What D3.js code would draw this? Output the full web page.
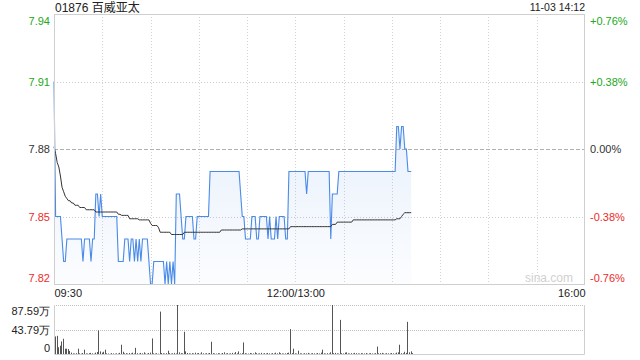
<!DOCTYPE html>
<html><head><meta charset="utf-8">
<script src="https://cdn.jsdelivr.net/npm/d3@7"></script>
<style>body{margin:0;background:#fff;} svg{display:block;font-family:"Liberation Sans",Arial,"Noto Sans CJK SC",sans-serif;}</style>
</head><body>
<svg id="c" width="640" height="360"></svg>
<script>
const title = "01876 百威亚太";
const stamp = "11-03 14:12";
const prevClose = 7.88;
const priceTicks = [7.82, 7.85, 7.88, 7.91, 7.94];
const pctLabels = ["-0.76%", "-0.38%", "0.00%", "+0.38%", "+0.76%"];
const timeTicks = [0, 150, 330];
const timeLabels = ["09:30", "12:00/13:00", "16:00"];
const volTicks = [0, 43.79, 87.59];
const volLabels = ["0", "43.79万", "87.59万"];

const price = [
7.91,7.85,7.85,7.85,7.85,7.84,7.83,7.83,7.84,7.84,
7.84,7.84,7.84,7.84,7.84,7.84,7.84,7.84,7.83,7.84,
7.84,7.84,7.84,7.83,7.84,7.84,7.86,7.86,7.85,7.86,
7.85,7.85,7.85,7.85,7.85,7.85,7.85,7.85,7.85,7.85,
7.83,7.83,7.83,7.83,7.84,7.84,7.84,7.83,7.84,7.84,
7.83,7.84,7.83,7.84,7.83,7.84,7.84,7.84,7.84,7.83,
7.82,7.82,7.83,7.83,7.83,7.83,7.83,7.83,7.83,7.82,
7.83,7.82,7.83,7.82,7.83,7.82,7.86,7.86,7.86,7.85,
7.84,7.84,7.85,7.85,7.85,7.85,7.85,7.84,7.84,7.85,
7.85,7.85,7.85,7.85,7.85,7.85,7.85,7.87,7.87,7.87,
7.87,7.87,7.87,7.87,7.87,7.87,7.87,7.87,7.87,7.87,
7.87,7.87,7.87,7.87,7.87,7.87,7.86,7.85,7.85,7.84,
7.84,7.84,7.84,7.85,7.85,7.85,7.84,7.84,7.85,7.85,
7.85,7.85,7.85,7.84,7.85,7.84,7.84,7.84,7.85,7.84,
7.85,7.85,7.85,7.85,7.84,7.84,7.87,7.87,7.87,7.87,
7.87,7.87,7.87,7.87,7.87,7.87,7.87,7.86,7.87,7.87,
7.87,7.87,7.87,7.87,7.87,7.87,7.87,7.87,7.87,7.87,
7.87,7.87,7.84,7.86,7.86,7.86,7.86,7.87,7.87,7.87,
7.87,7.87,7.87,7.87,7.87,7.87,7.87,7.87,7.87,7.87,
7.87,7.87,7.87,7.87,7.87,7.87,7.87,7.87,7.87,7.87,
7.87,7.87,7.87,7.87,7.87,7.87,7.87,7.87,7.87,7.87,
7.87,7.87,7.87,7.89,7.89,7.88,7.89,7.89,7.88,7.88,
7.87,7.87,7.87];

const avg = [
7.881,7.878,7.874,7.872,7.868,7.863,7.861,7.859,7.858,7.857,
7.857,7.856,7.856,7.855,7.855,7.855,7.854,7.854,7.854,7.854,
7.853,7.853,7.853,7.853,7.853,7.853,7.852,7.852,7.852,7.852,
7.852,7.852,7.852,7.852,7.852,7.852,7.852,7.852,7.852,7.852,
7.851,7.851,7.8505,7.8505,7.8505,7.8505,7.8505,7.849,7.849,7.849,
7.849,7.849,7.849,7.8485,7.8485,7.8485,7.8485,7.8485,7.8485,7.8485,
7.847,7.846,7.846,7.846,7.846,7.845,7.843,7.843,7.843,7.843,
7.843,7.843,7.843,7.842,7.842,7.842,7.842,7.842,7.842,7.842,
7.842,7.843,7.843,7.843,7.843,7.843,7.843,7.843,7.843,7.843,
7.843,7.843,7.843,7.843,7.843,7.843,7.843,7.843,7.843,7.843,
7.843,7.843,7.843,7.843,7.844,7.844,7.844,7.844,7.844,7.844,
7.844,7.844,7.844,7.844,7.844,7.844,7.844,7.8445,7.8445,7.8445,
7.8445,7.8445,7.8445,7.8445,7.8445,7.8445,7.8445,7.8445,7.8445,7.8445,
7.8445,7.8445,7.8445,7.8445,7.8445,7.8445,7.8445,7.8445,7.8445,7.8445,
7.8445,7.8445,7.8445,7.8445,7.8445,7.8445,7.8445,7.8455,7.8455,7.8455,
7.8455,7.8455,7.8455,7.8455,7.8455,7.8455,7.8455,7.8455,7.8455,7.8455,
7.8455,7.8455,7.8455,7.8455,7.8455,7.8455,7.8455,7.8455,7.8455,7.8455,
7.8455,7.8455,7.8455,7.8465,7.8465,7.8465,7.8475,7.8475,7.8475,7.8475,
7.8475,7.8475,7.8475,7.8475,7.8475,7.8475,7.8485,7.8485,7.8485,7.8485,
7.8485,7.8485,7.8485,7.8485,7.8485,7.8485,7.8485,7.8485,7.8485,7.8485,
7.8485,7.8485,7.8485,7.8485,7.8485,7.8485,7.8485,7.8485,7.8485,7.8485,
7.8485,7.8485,7.8485,7.849,7.849,7.849,7.850,7.851,7.8517,7.8517,
7.8517,7.8517,7.8517];

const vol = [
31.4,32.5,12,14.8,22.5,27.2,9.5,9.5,8.9,5.5,
2.5,1.2,0.8,1.5,9.5,1.2,0.6,1.8,7.7,1.0,
0.8,1.5,2.0,1.2,0.6,2.4,3.5,42,4.7,2.5,
4.0,7.7,1.2,0.8,0.5,1.5,1.0,0.6,1.2,0.8,
2.0,16.6,4.0,1.2,1.5,0.8,1.8,1.2,2.4,1.0,
11,1.5,0.8,2.0,1.2,3.0,1.0,0.6,1.8,2.5,
27.8,1.2,0.8,1.5,0.6,75.8,1.8,1.2,0.8,1.5,
5.9,1.5,0.8,1.2,2.0,1.0,87.59,3.0,1.5,1.2,
39.7,4.7,1.8,1.2,0.8,1.5,1.0,2.4,1.2,1.8,
0.6,3.0,1.2,0.8,1.5,1.0,1.8,21.9,1.5,1.0,
0.8,1.5,1.2,0.6,1.8,3.0,1.0,1.5,0.8,1.2,
2.0,1.0,3.5,1.2,4.7,1.0,1.5,20.7,1.5,1.0,
0.8,1.8,1.2,1.0,3.0,1.5,0.8,1.2,2.0,0.6,
1.5,1.0,1.8,1.2,0.8,1.5,1.0,2.4,1.2,3.0,
1.5,1.0,0.8,1.2,1.8,2.4,44.4,1.5,9.5,1.2,
0.8,5.9,1.2,1.0,0.6,1.5,1.2,2.0,0.8,1.0,
1.5,1.2,0.8,1.8,1.0,2.4,7.7,1.2,0.8,1.5,
1.0,3.0,87.59,1.5,2.0,1.2,0.8,61,1.5,1.0,
2.4,3.0,1.2,0.8,1.5,1.0,2.0,1.5,1.0,0.8,
1.5,1.2,1.0,1.8,0.6,1.2,1.5,1.0,0.8,1.5,
13.3,1.2,1.5,2.0,1.0,0.8,1.5,1.2,1.0,1.8,
1.2,0.8,2.4,3.0,16.6,1.5,1.2,4.0,2.0,57.5,
3.0,4.7,1.5];

const L = 54, R = 585, T = 14, B = 284, VT = 305, VB = 354;
const GREEN = "#21a821", RED = "#ee2a2a", DARK = "#333";
const svg = d3.select("#c");
const x = d3.scaleLinear().domain([0, 330]).range([L, R]);
const y = d3.scaleLinear().domain([7.82, 7.94]).range([B, T]);
const yv = d3.scaleLinear().domain([0, 87.59]).range([VB, VT]);
const colorOf = v => Math.abs(v - prevClose) < 1e-9 ? DARK : (v > prevClose ? GREEN : RED);

// gradient
const defs = svg.append("defs");
const g = defs.append("linearGradient").attr("id", "fillg").attr("gradientUnits", "userSpaceOnUse")
  .attr("x1", 0).attr("y1", T).attr("x2", 0).attr("y2", B);
g.append("stop").attr("offset", "0%").attr("stop-color", "#4d8de8").attr("stop-opacity", 0.2);
g.append("stop").attr("offset", "100%").attr("stop-color", "#4d8de8").attr("stop-opacity", 0.02);

// vertical grid lines (every 30 minutes)
const vgrid = d3.range(30, 330, 30);
svg.append("g").selectAll("line").data(vgrid).join("line")
  .attr("x1", d => Math.round(x(d)) + 0.5).attr("x2", d => Math.round(x(d)) + 0.5)
  .attr("y1", T).attr("y2", B)
  .attr("stroke", "#d4d4d4").attr("stroke-dasharray", "1,2");

// horizontal grid lines
svg.append("g").selectAll("line").data(priceTicks.slice(1, 4)).join("line")
  .attr("x1", L).attr("x2", R)
  .attr("y1", d => Math.round(y(d)) + 0.5).attr("y2", d => Math.round(y(d)) + 0.5)
  .attr("stroke", d => d === prevClose ? "#b0b0b0" : "#cccccc")
  .attr("stroke-dasharray", d => d === prevClose ? "4,2" : "1,2");

// area + price line
const idx = d3.range(price.length);
svg.append("path").datum(idx)
  .attr("d", d3.area().x(i => x(i)).y0(B).y1(i => y(price[i])))
  .attr("fill", "url(#fillg)");
svg.append("path").datum(idx)
  .attr("d", d3.line().x(i => x(i)).y(i => y(price[i])))
  .attr("fill", "none").attr("stroke", "#4a8ae8").attr("stroke-width", 1.1);
svg.append("path").datum(idx)
  .attr("d", d3.line().x(i => x(i)).y(i => y(avg[i])))
  .attr("fill", "none").attr("stroke", "#333").attr("stroke-width", 1);

// main frame
svg.append("rect").attr("x", L + 0.5).attr("y", T + 0.5).attr("width", R - L - 1).attr("height", B - T)
  .attr("fill", "none").attr("stroke", "#cfcfcf");

// watermark
svg.append("text").attr("x", 573).attr("y", 282).attr("text-anchor", "end")
  .attr("font-size", 12).attr("fill", "#d0d0d0").text("sina.com");

// left price axis
const axL = svg.append("g").attr("transform", `translate(${L},0)`)
  .call(d3.axisLeft(y).tickValues(priceTicks).tickSize(0).tickPadding(4).tickFormat(d3.format(".2f")));
axL.select(".domain").remove();
axL.selectAll("text").attr("font-size", 11).attr("font-family", "Liberation Sans, Arial, sans-serif")
  .attr("fill", d => colorOf(d))
  .attr("dy", d => d === 7.94 ? "0.95em" : (d === 7.82 ? "-0.2em" : "0.32em"));

// right percent axis
const axR = svg.append("g").attr("transform", `translate(${R},0)`)
  .call(d3.axisRight(y).tickValues(priceTicks).tickSize(0).tickPadding(5)
    .tickFormat((d, i) => pctLabels[i]));
axR.select(".domain").remove();
axR.selectAll("text").attr("font-size", 11).attr("font-family", "Liberation Sans, Arial, sans-serif")
  .attr("fill", d => colorOf(d))
  .attr("dy", d => d === 7.94 ? "0.95em" : (d === 7.82 ? "-0.2em" : "0.32em"));

// time axis
const axB = svg.append("g").attr("transform", `translate(0,${B})`)
  .call(d3.axisBottom(x).tickValues(timeTicks).tickSize(0).tickPadding(5)
    .tickFormat((d, i) => timeLabels[i]));
axB.select(".domain").remove();
axB.selectAll("text").attr("font-size", 11).attr("font-family", "Liberation Sans, Arial, sans-serif")
  .attr("fill", "#222")
  .attr("text-anchor", (d, i) => i === 0 ? "start" : (i === 2 ? "end" : "middle"));

// volume grid
svg.append("g").selectAll("line").data(volTicks.slice(1)).join("line")
  .attr("x1", L).attr("x2", R)
  .attr("y1", d => Math.round(yv(d)) + 0.5).attr("y2", d => Math.round(yv(d)) + 0.5)
  .attr("stroke", "#c0c0c0").attr("stroke-dasharray", "1,1");
svg.append("path")
  .attr("d", `M${L + 0.5},${VT}V${VB + 0.5}H${R - 0.5}V${VT}`)
  .attr("fill", "none").attr("stroke", "#cfcfcf");

// volume bars
svg.append("g").selectAll("rect").data(idx).join("rect")
  .attr("x", i => Math.round(x(i)) + 1).attr("width", 1)
  .attr("y", i => yv(vol[i])).attr("height", i => VB - yv(vol[i]))
  .attr("fill", "#555");

// volume axis
const axV = svg.append("g").attr("transform", `translate(${L},0)`)
  .call(d3.axisLeft(yv).tickValues(volTicks).tickSize(0).tickPadding(4)
    .tickFormat((d, i) => volLabels[i]));
axV.select(".domain").remove();
axV.selectAll("text").attr("font-size", 11).attr("font-family", "Liberation Sans, Arial, sans-serif")
  .attr("fill", "#222")
  .attr("dy", (d, i) => i === 2 ? "0.85em" : (i === 0 ? "-0.2em" : "0.32em"));

// header
svg.append("text").attr("x", L + 1).attr("y", 12).attr("font-size", 12).attr("fill", "#222").text(title);
svg.append("text").attr("x", R).attr("y", 11).attr("text-anchor", "end").attr("font-size", 10.5)
  .attr("fill", "#222").text(stamp);
</script>
</body></html>
